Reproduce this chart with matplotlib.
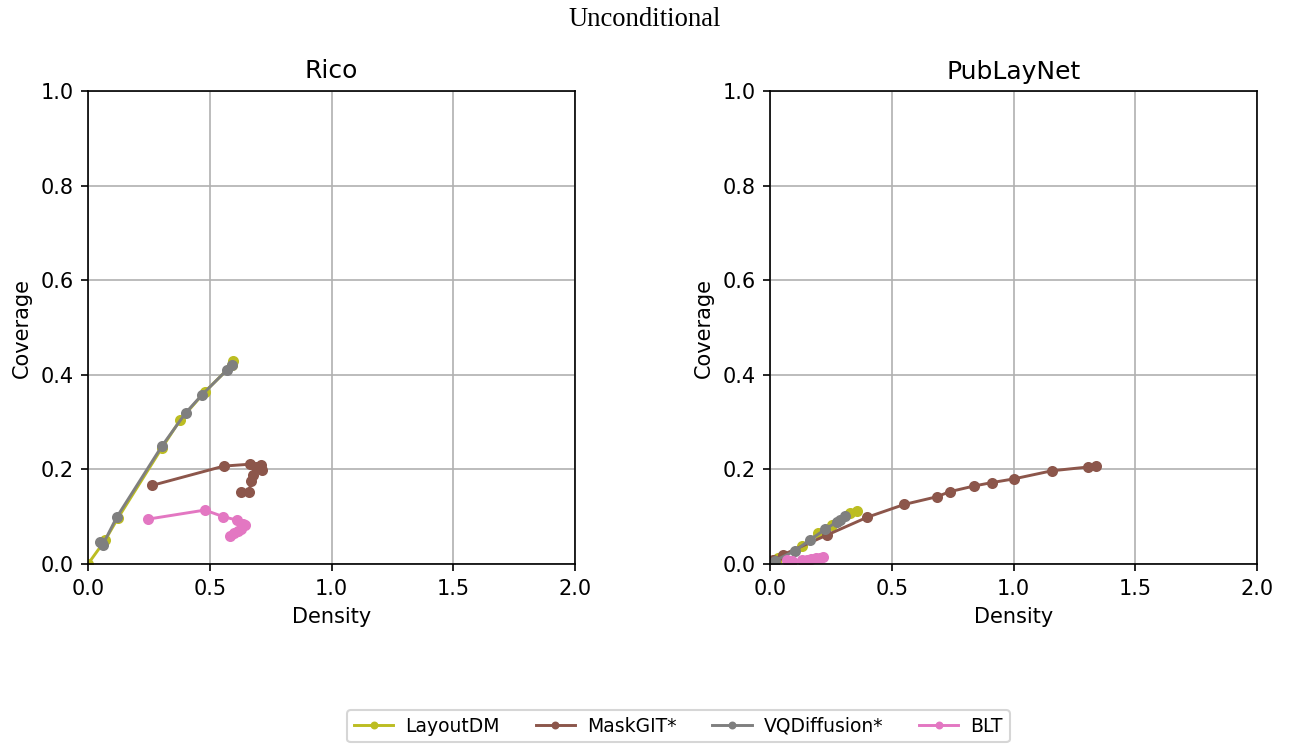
import matplotlib
matplotlib.use("Agg")
import matplotlib.pyplot as plt

# Rico
rico_layoutdm_x = [0.0, 0.07, 0.123, 0.303, 0.378, 0.48, 0.59, 0.596]
rico_layoutdm_y = [0.0, 0.05, 0.097, 0.245, 0.304, 0.364, 0.42, 0.43]
rico_maskgit_x = [0.262, 0.558, 0.665, 0.709, 0.713, 0.69, 0.679, 0.668, 0.663, 0.627]
rico_maskgit_y = [0.166, 0.207, 0.211, 0.209, 0.199, 0.205, 0.188, 0.175, 0.152, 0.153]
rico_vqdiff_x = [0.05, 0.056, 0.06, 0.118, 0.303, 0.402, 0.467, 0.57, 0.59]
rico_vqdiff_y = [0.046, 0.044, 0.04, 0.099, 0.249, 0.32, 0.357, 0.41, 0.421]
rico_blt_x = [0.248, 0.48, 0.556, 0.61, 0.635, 0.645, 0.63, 0.615, 0.60, 0.585]
rico_blt_y = [0.095, 0.114, 0.100, 0.093, 0.085, 0.082, 0.075, 0.070, 0.065, 0.060]

# PubLayNet
pub_layoutdm_x = [0.0, 0.034, 0.13, 0.198, 0.253, 0.33, 0.356]
pub_layoutdm_y = [0.0, 0.012, 0.037, 0.065, 0.082, 0.107, 0.113]
pub_maskgit_x = [0.014, 0.055, 0.233, 0.4, 0.552, 0.684, 0.739, 0.839, 0.91, 1.002, 1.157, 1.305, 1.338]
pub_maskgit_y = [0.008, 0.02, 0.061, 0.099, 0.126, 0.142, 0.153, 0.165, 0.172, 0.18, 0.197, 0.205, 0.207]
pub_vqdiff_x = [0.02, 0.103, 0.164, 0.226, 0.274, 0.287, 0.308]
pub_vqdiff_y = [0.007, 0.028, 0.051, 0.073, 0.089, 0.094, 0.101]
pub_blt_x = [0.068, 0.09, 0.13, 0.15, 0.17, 0.19, 0.205, 0.219]
pub_blt_y = [0.008, 0.006, 0.008, 0.009, 0.010, 0.012, 0.013, 0.014]

labels = ["LayoutDM", "MaskGIT*", "VQDiffusion*", "BLT"]
colors = ["#bcbd22", "#8c564b", "#7f7f7f", "#e377c2"]

W, H = 1289, 745
DPI = 150
fig = plt.figure(figsize=(W / DPI, H / DPI), dpi=DPI)
ax1 = fig.add_axes([88/W, (H-564)/H, 487/W, 473/H])
ax2 = fig.add_axes([770/W, (H-564)/H, 487/W, 473/H])

datasets = [
    (ax1, "Rico", [(rico_layoutdm_x, rico_layoutdm_y), (rico_maskgit_x, rico_maskgit_y),
                   (rico_vqdiff_x, rico_vqdiff_y), (rico_blt_x, rico_blt_y)]),
    (ax2, "PubLayNet", [(pub_layoutdm_x, pub_layoutdm_y), (pub_maskgit_x, pub_maskgit_y),
                        (pub_vqdiff_x, pub_vqdiff_y), (pub_blt_x, pub_blt_y)]),
]

handles = []
for ax, title, series in datasets:
    hs = []
    for (x, y), lab, c in zip(series, labels, colors):
        h, = ax.plot(x, y, marker="o", markersize=4.3, linewidth=1.4, color=c, label=lab)
        hs.append(h)
    handles = hs
    ax.set_xlim(0, 2.0)
    ax.set_ylim(0, 1.0)
    ax.set_xticks([0.0, 0.5, 1.0, 1.5, 2.0])
    ax.set_yticks([0.0, 0.2, 0.4, 0.6, 0.8, 1.0])
    ax.grid(True, color="#b0b0b0", linewidth=0.8)
    ax.set_axisbelow(True)
    ax.set_title(title, fontsize=12)
    ax.set_xlabel("Density", fontsize=10)
    ax.set_ylabel("Coverage", fontsize=10)
    ax.tick_params(labelsize=10)

fig.suptitle("Unconditional", fontsize=12.8, family="Liberation Serif", y=0.99)
fig.legend(handles, labels, loc="lower center", ncol=4, bbox_to_anchor=(678.5 / W, -0.009),
           fontsize=9, markerscale=0.65, columnspacing=1.9, handlelength=2.1,
           handletextpad=0.65, borderpad=0.35)

fig.savefig("out.png", dpi=DPI)
